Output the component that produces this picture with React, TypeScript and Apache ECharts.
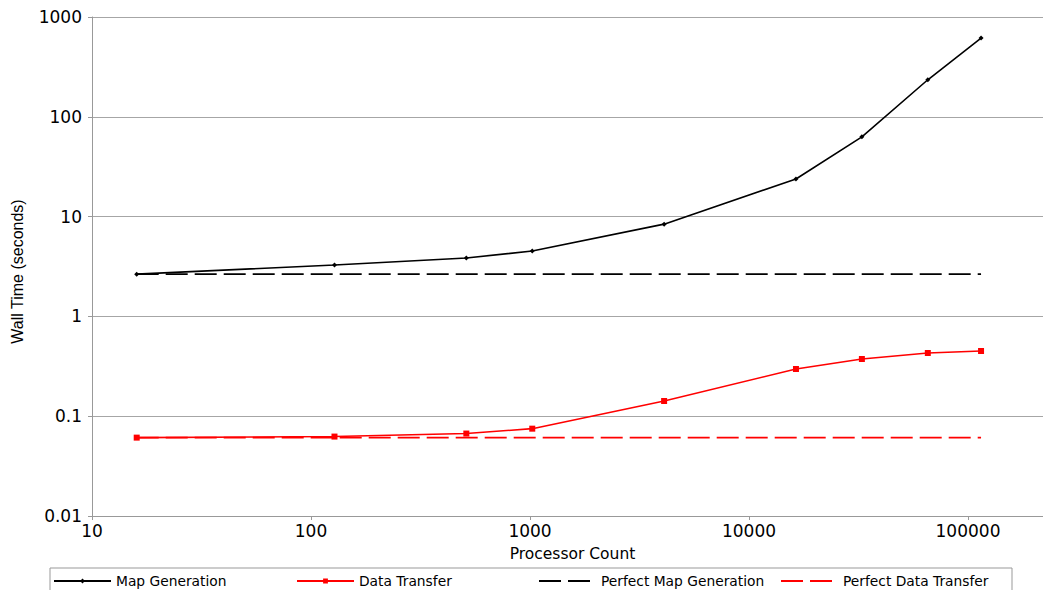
import React, { useEffect, useRef } from "react";
import * as echarts from "echarts";

const processors = [16, 128, 512, 1024, 4096, 16384, 32768, 65536, 114688];
const mapGeneration = [2.65, 3.27, 3.85, 4.52, 8.4, 23.8, 63, 235, 615];
const dataTransfer = [0.061, 0.0625, 0.067, 0.075, 0.142, 0.297, 0.374, 0.43, 0.45];
const perfectMap = [2.65, 2.65];
const perfectData = [0.061, 0.061];
const perfectX = [16, 114688];
const seriesNames = ["Map Generation", "Data Transfer", "Perfect Map Generation", "Perfect Data Transfer"];
const legendLefts = [53, 296, 538, 780];

const fmt = (v: number) => String(+Number(v).toPrecision(3));

export default function App() {
  const ref = useRef<HTMLDivElement>(null);
  useEffect(() => {
    document.body.style.margin = "0";
    const chart = echarts.init(ref.current!, null, { renderer: "svg" });
    const pair = (xs: number[], ys: number[]) => xs.map((x, i) => [x, ys[i]]);
    chart.setOption({
      animation: false,
      textStyle: { fontFamily: "DejaVu Sans" },
      grid: { left: 92, right: 0, top: 17, bottom: 74, containLabel: false, outerBoundsMode: "none" },
      xAxis: {
        type: "log",
        logBase: 10,
        min: 10,
        max: 220000,
        name: "Processor Count",
        nameLocation: "middle",
        nameGap: 30,
        nameTextStyle: { fontSize: 15.5, color: "#000", fontFamily: "DejaVu Sans", padding: [0, 0, 0, 10] },
        axisLine: { show: true, lineStyle: { color: "#999", width: 1 } },
        axisTick: { show: true, length: 4, lineStyle: { color: "#999" } },
        axisLabel: {
          fontSize: 17,
          color: "#000",
          margin: 6,
          showMaxLabel: false,
          formatter: (v: number) => fmt(v),
        },
        splitLine: { show: false },
        minorTick: { show: false },
      },
      yAxis: {
        type: "log",
        logBase: 10,
        min: 0.01,
        max: 1000,
        name: "Wall Time (seconds)",
        nameLocation: "middle",
        nameGap: 67,
        nameTextStyle: { fontSize: 16, color: "#000", fontFamily: "Liberation Sans", padding: [0, 10, 0, 0] },
        axisLine: { show: true, lineStyle: { color: "#999", width: 1 } },
        axisTick: { show: true, length: 4, lineStyle: { color: "#999" } },
        axisLabel: { fontSize: 17, color: "#000", margin: 10, formatter: (v: number) => fmt(v) },
        splitLine: { show: true, lineStyle: { color: "#a6a6a6", width: 1 } },
      },
      legend: seriesNames.map((n, i) => ({
        data: [i >= 2 ? { name: n, itemStyle: { opacity: 0 } } : { name: n }],
        left: legendLefts[i],
        top: 574,
        padding: 0,
        itemWidth: 57,
        itemHeight: 6,
        textStyle: { fontSize: 13.8, color: "#000", fontFamily: "DejaVu Sans" },
        selectedMode: false,
      })),
      graphic: [
        {
          type: "rect",
          shape: { x: 50, y: 568, width: 962, height: 40 },
          style: { fill: "none", stroke: "#999", lineWidth: 1 },
          silent: true,
        },
      ],
      series: [
        {
          name: seriesNames[0],
          type: "line",
          data: pair(processors, mapGeneration),
          smooth: false,
          symbol: "diamond",
          symbolSize: 5,
          lineStyle: { color: "#000", width: 1.6 },
          itemStyle: { color: "#000" },
        },
        {
          name: seriesNames[1],
          type: "line",
          data: pair(processors, dataTransfer),
          smooth: false,
          symbol: "rect",
          symbolSize: 6,
          lineStyle: { color: "#f00", width: 1.6 },
          itemStyle: { color: "#f00" },
        },
        {
          name: seriesNames[2],
          type: "line",
          data: pair(perfectX, perfectMap),
          symbol: "none",
          lineStyle: { color: "#000", width: 1.8, type: [22, 7] },
          itemStyle: { color: "#000" },
        },
        {
          name: seriesNames[3],
          type: "line",
          data: pair(perfectX, perfectData),
          symbol: "none",
          lineStyle: { color: "#f00", width: 1.8, type: [22, 7] },
          itemStyle: { color: "#f00" },
        },
      ],
    });
    return () => chart.dispose();
  }, []);
  return <div ref={ref} style={{ width: 1043, height: 590 }} />;
}
